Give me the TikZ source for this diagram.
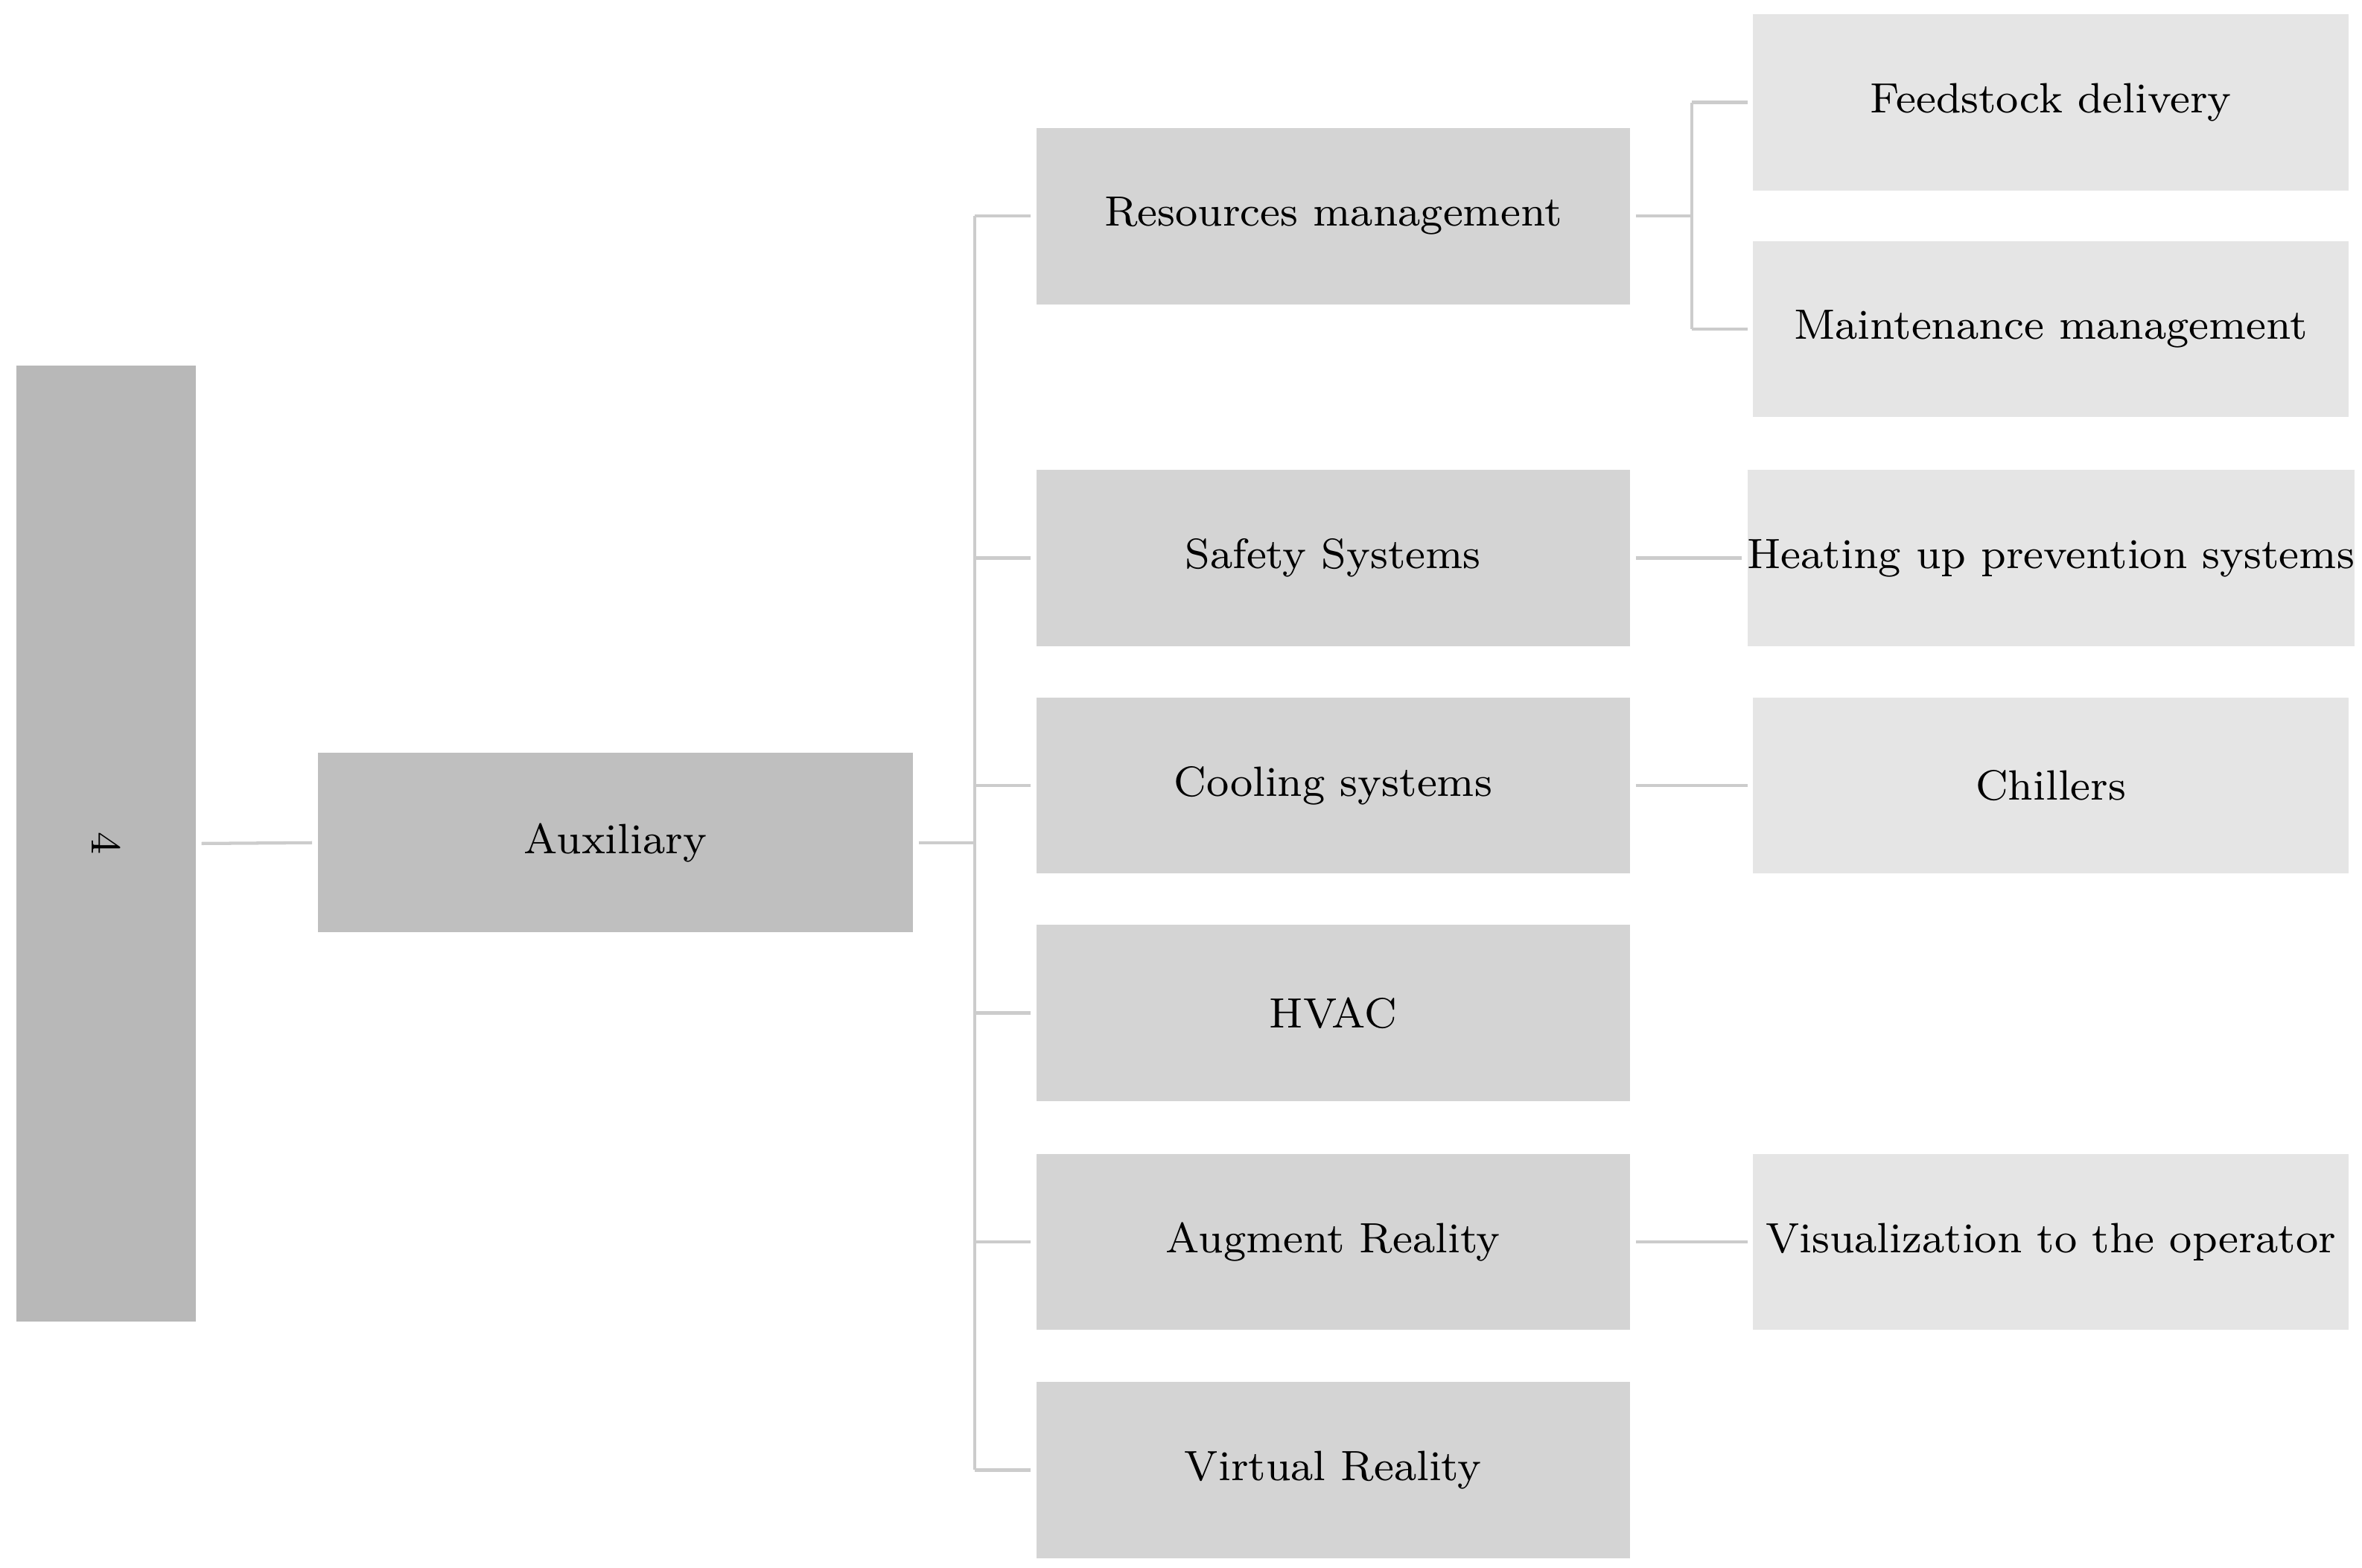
\documentclass[tikz,border=0pt]{standalone}
\begin{document}
\begin{tikzpicture}[x=0.01cm,y=-0.01cm,
  box/.style={rectangle,inner sep=0pt,font=\fontsize{8}{10}\selectfont},
  lvA/.style={box,fill=black!28,minimum width=1.19cm,minimum height=6.34cm},
  lvB/.style={box,fill=black!25,minimum width=3.95cm,minimum height=1.19cm},
  lvC/.style={box,fill=black!17,minimum width=3.94cm,minimum height=1.17cm},
  lvD/.style={box,fill=black!10,minimum width=3.95cm,minimum height=1.17cm},
  ln/.style={draw=black!20,line width=0.6pt}]
\useasboundingbox (0,0) rectangle (1568,1041);
\node[lvA] (root) at (70.5,560) {};
\node[rotate=-90,font=\fontsize{8}{10}\selectfont] (rootlbl) at (root.center) {4};
\node[lvB] (aux) at (408.5,559.5) {Auxiliary};
\node[lvC] (c1) at (885,143.5) {Resources management};
\node[lvC] (c2) at (885,370.5) {Safety Systems};
\node[lvC] (c3) at (885,521.5) {Cooling systems};
\node[lvC] (c4) at (885,672.5) {HVAC};
\node[lvC] (c5) at (885,824.5) {Augment Reality};
\node[lvC] (c6) at (885,976) {Virtual Reality};
\node[lvD] (d1) at (1361.5,68) {Feedstock delivery};
\node[lvD] (d2) at (1361.5,218.5) {Maintenance management};
\node[lvD] (d3) at (1361.5,370.5) {Heating up prevention systems};
\node[lvD] (d4) at (1361.5,521.5) {Chillers};
\node[lvD] (d5) at (1361.5,824.5) {Visualization to the operator};
\coordinate (j) at (647,559.5);
\coordinate (k) at (1123,143.5);
\draw[ln] ([xshift=0.03cm]root.east) -- ([xshift=-0.03cm]aux.west);
\draw[ln] ([xshift=0.03cm]aux.east) -- (j);
\draw[ln] (j |- c1.west) -- (j |- c6.west);
\foreach \n in {c1,c2,c3,c4,c5,c6} \draw[ln] (j |- \n.west) -- ([xshift=-0.03cm]\n.west);
\draw[ln] ([xshift=0.03cm]c1.east) -- (k);
\draw[ln] (k |- d1.west) -- (k |- d2.west);
\draw[ln] (k |- d1.west) -- ([xshift=-0.03cm]d1.west);
\draw[ln] (k |- d2.west) -- ([xshift=-0.03cm]d2.west);
\draw[ln] ([xshift=0.03cm]c2.east) -- ([xshift=-0.03cm]d3.west);
\draw[ln] ([xshift=0.03cm]c3.east) -- ([xshift=-0.03cm]d4.west);
\draw[ln] ([xshift=0.03cm]c5.east) -- ([xshift=-0.03cm]d5.west);
\end{tikzpicture}
\end{document}
